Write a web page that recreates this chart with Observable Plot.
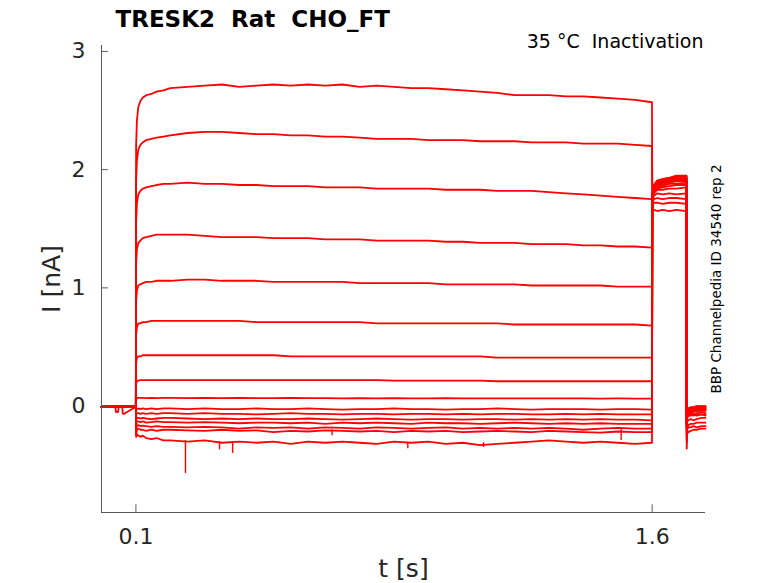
<!DOCTYPE html>
<html>
<head>
<meta charset="utf-8">
<script src="https://cdn.jsdelivr.net/npm/d3@7"></script>
<script src="https://cdn.jsdelivr.net/npm/@observablehq/plot@0.6"></script>
<style>
  html, body { margin: 0; padding: 0; background: #fff; }
  svg text { white-space: pre; }
</style>
</head>
<body>
<div id="chart"></div>
<script>
// ---- time grids (s) ----
const tPre = [0, 0.04, 0.042, 0.048, 0.05, 0.06, 0.062, 0.066, 0.0998];
const tRise = [0.1005, 0.103, 0.107, 0.113, 0.12, 0.13, 0.145, 0.16, 0.18];
const tPlateau = [0.2, 0.25, 0.3, 0.35, 0.4, 0.45, 0.5, 0.55, 0.6, 0.65,
                  0.7, 0.75, 0.8, 0.85, 0.9, 0.95, 1.0, 1.05, 1.1, 1.15,
                  1.2, 1.25, 1.3, 1.35, 1.4, 1.45, 1.5, 1.55, 1.5995];
const tTail = [1.6005, 1.605, 1.615, 1.63, 1.65, 1.67, 1.6995];
const tPost = [1.7005, 1.702, 1.705, 1.712, 1.72, 1.73, 1.743, 1.755];

// ---- current (nA), one row per sweep ----
const base = -0.005;
const pre = [
  [base,base,base,base,base,base,base,base,base],
  [base,base,base,base,base,base,base,base,base],
  [base,base,base,base,base,base,base,base,base],
  [base,base,base,base,base,base,base,base,base],
  [base,base,base,base,base,base,base,base,base],
  [base,base,base,base,base,base,base,base,base],
  [base,base,base,base,base,base,base,base,base],
  [base,base,base,base,base,base,base,base,base],
  [base,base,base,base,base,base,base,base,base],
  [base,base,-0.05,-0.05,base,base,base,base,base],
  [base,base,base,base,base,base,base,base,base],
  [base,base,base,base,base,base,base,base,base],
  [base,base,base,base,base,base,-0.065,-0.065,base],
  [base,base,base,base,base,base,base,base,base],
  [base,base,base,base,base,base,base,base,base],
  [base,base,base,base,base,base,base,base,base]
];
const rise = [
  [2.2, 2.42, 2.53, 2.58, 2.61, 2.63, 2.64, 2.66, 2.67],
  [1.9, 2.08, 2.17, 2.21, 2.23, 2.25, 2.26, 2.27, 2.28],
  [1.55, 1.72, 1.79, 1.82, 1.84, 1.85, 1.86, 1.87, 1.88],
  [1.2, 1.33, 1.38, 1.4, 1.42, 1.43, 1.44, 1.45, 1.45],
  [0.88, 0.98, 1.02, 1.03, 1.04, 1.05, 1.05, 1.06, 1.06],
  [0.6, 0.67, 0.7, 0.7, 0.71, 0.71, 0.72, 0.72, 0.72],
  [0.36, 0.41, 0.42, 0.42, 0.43, 0.43, 0.43, 0.43, 0.43],
  [0.19, 0.21, 0.215, 0.22, 0.22, 0.22, 0.22, 0.22, 0.22],
  [0.06, 0.065, 0.07, 0.07, 0.07, 0.068, 0.07, 0.068, 0.07],
  [-0.03, -0.025, -0.02, -0.025, -0.02, -0.025, -0.02, -0.025, -0.02],
  [-0.07, -0.06, -0.06, -0.065, -0.06, -0.065, -0.06, -0.065, -0.06],
  [-0.12, -0.1, -0.1, -0.105, -0.1, -0.105, -0.11, -0.105, -0.1],
  [-0.16, -0.13, -0.13, -0.135, -0.13, -0.14, -0.135, -0.13, -0.135],
  [-0.2, -0.17, -0.16, -0.17, -0.165, -0.17, -0.175, -0.17, -0.175],
  [-0.24, -0.2, -0.19, -0.2, -0.2, -0.21, -0.2, -0.21, -0.2],
  [-0.26, -0.24, -0.25, -0.26, -0.25, -0.27, -0.28, -0.27, -0.29]
];
const plateau = [
  [2.69,2.70,2.71,2.72,2.70,2.71,2.72,2.71,2.72,2.71, 2.72,2.70,2.71,2.70,2.69,2.69,2.68,2.67,2.66,2.65, 2.63,2.63,2.63,2.62,2.62,2.61,2.60,2.59,2.57],
  [2.29,2.31,2.32,2.32,2.31,2.30,2.30,2.29,2.29,2.28, 2.28,2.27,2.26,2.26,2.26,2.25,2.25,2.25,2.24,2.24, 2.24,2.23,2.23,2.23,2.22,2.22,2.22,2.21,2.20],
  [1.88,1.89,1.88,1.88,1.87,1.87,1.86,1.86,1.86,1.85, 1.85,1.85,1.84,1.84,1.84,1.84,1.83,1.83,1.83,1.82, 1.82,1.82,1.81,1.80,1.79,1.78,1.77,1.76,1.75],
  [1.45,1.45,1.44,1.43,1.43,1.43,1.42,1.42,1.42,1.41, 1.41,1.41,1.40,1.40,1.40,1.40,1.39,1.39,1.38,1.38, 1.38,1.37,1.37,1.37,1.36,1.36,1.35,1.35,1.34],
  [1.06,1.07,1.07,1.06,1.06,1.06,1.05,1.05,1.05,1.05, 1.05,1.04,1.04,1.04,1.04,1.04,1.03,1.03,1.03,1.03, 1.03,1.02,1.02,1.02,1.02,1.02,1.01,1.01,1.01],
  [0.72,0.72,0.72,0.72,0.72,0.71,0.71,0.71,0.71,0.71, 0.71,0.71,0.70,0.70,0.70,0.70,0.70,0.70,0.70,0.70, 0.69,0.69,0.69,0.69,0.69,0.69,0.69,0.69,0.68],
  [0.43,0.43,0.43,0.43,0.43,0.43,0.43,0.42,0.42,0.42, 0.42,0.42,0.42,0.42,0.42,0.42,0.42,0.42,0.42,0.41, 0.41,0.41,0.41,0.41,0.41,0.41,0.41,0.41,0.41],
  [0.22,0.22,0.22,0.22,0.22,0.22,0.22,0.22,0.22,0.22, 0.22,0.22,0.22,0.215,0.215,0.215,0.215,0.215,0.215,0.21, 0.21,0.21,0.21,0.21,0.21,0.21,0.21,0.21,0.21],
  [0.07,0.068,0.07,0.068,0.07,0.068,0.068,0.07,0.068,0.068, 0.066,0.068,0.066,0.068,0.066,0.066,0.068,0.066,0.066,0.065, 0.066,0.065,0.065,0.066,0.065,0.064,0.065,0.064,0.064],
  [-0.02,-0.025,-0.02,-0.025,-0.025,-0.02,-0.025,-0.025,-0.02,-0.025, -0.03,-0.025,-0.025,-0.02,-0.025,-0.025,-0.03,-0.025,-0.025,-0.02, -0.025,-0.03,-0.025,-0.025,-0.025,-0.03,-0.025,-0.025,-0.03],
  [-0.06,-0.065,-0.06,-0.065,-0.065,-0.07,-0.065,-0.06,-0.065,-0.065, -0.07,-0.065,-0.065,-0.07,-0.065,-0.065,-0.07,-0.065,-0.07,-0.065, -0.065,-0.07,-0.07,-0.065,-0.07,-0.065,-0.07,-0.07,-0.07],
  [-0.1,-0.105,-0.11,-0.105,-0.11,-0.105,-0.11,-0.11,-0.105,-0.11, -0.115,-0.11,-0.105,-0.11,-0.115,-0.11,-0.11,-0.115,-0.11,-0.11, -0.115,-0.11,-0.115,-0.11,-0.115,-0.11,-0.115,-0.115,-0.12],
  [-0.135,-0.14,-0.135,-0.14,-0.145,-0.14,-0.14,-0.145,-0.14,-0.15, -0.14,-0.145,-0.14,-0.145,-0.15,-0.14,-0.145,-0.145,-0.15,-0.145, -0.14,-0.145,-0.15,-0.145,-0.15,-0.145,-0.15,-0.15,-0.15],
  [-0.175,-0.18,-0.175,-0.18,-0.19,-0.18,-0.185,-0.18,-0.19,-0.18, -0.185,-0.19,-0.18,-0.185,-0.19,-0.185,-0.18,-0.19,-0.185,-0.19, -0.185,-0.19,-0.185,-0.19,-0.2,-0.19,-0.185,-0.19,-0.19],
  [-0.2,-0.205,-0.21,-0.2,-0.21,-0.205,-0.22,-0.21,-0.215,-0.205, -0.21,-0.215,-0.21,-0.22,-0.21,-0.215,-0.21,-0.22,-0.215,-0.21, -0.215,-0.22,-0.21,-0.215,-0.22,-0.225,-0.215,-0.22,-0.22],
  [-0.29,-0.3,-0.29,-0.31,-0.3,-0.31,-0.3,-0.32,-0.3,-0.31, -0.3,-0.31,-0.32,-0.3,-0.31,-0.3,-0.32,-0.31,-0.33,-0.32, -0.31,-0.3,-0.29,-0.3,-0.31,-0.3,-0.31,-0.32,-0.31]
];
const tail = [
  [1.65, 1.66, 1.65, 1.66, 1.65, 1.66, 1.65],
  [1.7, 1.72, 1.72, 1.71, 1.72, 1.72, 1.71],
  [1.72, 1.75, 1.76, 1.75, 1.76, 1.76, 1.75],
  [1.74, 1.78, 1.8, 1.79, 1.8, 1.79, 1.8],
  [1.74, 1.8, 1.83, 1.83, 1.84, 1.84, 1.85],
  [1.75, 1.81, 1.84, 1.85, 1.86, 1.87, 1.87],
  [1.75, 1.82, 1.85, 1.86, 1.88, 1.88, 1.89],
  [1.76, 1.83, 1.86, 1.87, 1.89, 1.9, 1.9],
  [1.76, 1.84, 1.87, 1.88, 1.9, 1.91, 1.91],
  [1.77, 1.84, 1.88, 1.89, 1.9, 1.92, 1.92],
  [1.77, 1.85, 1.88, 1.9, 1.91, 1.92, 1.93],
  [1.78, 1.85, 1.89, 1.9, 1.91, 1.93, 1.93],
  [1.78, 1.86, 1.89, 1.91, 1.92, 1.93, 1.94],
  [1.79, 1.86, 1.9, 1.91, 1.92, 1.94, 1.94],
  [1.79, 1.87, 1.9, 1.92, 1.93, 1.94, 1.95],
  [1.8, 1.87, 1.91, 1.92, 1.93, 1.95, 1.95]
];
const post = [
  [-0.36, -0.2, -0.16, -0.15, -0.15, -0.14, -0.14, -0.14],
  [-0.3, -0.23, -0.22, -0.21, -0.2, -0.2, -0.19, -0.19],
  [-0.28, -0.19, -0.18, -0.18, -0.17, -0.18, -0.17, -0.17],
  [-0.25, -0.13, -0.12, -0.11, -0.12, -0.11, -0.1, -0.1],
  [-0.2, -0.09, -0.07, -0.06, -0.07, -0.06, -0.05, -0.06],
  [-0.2, -0.08, -0.06, -0.05, -0.05, -0.04, -0.04, -0.04],
  [-0.18, -0.07, -0.05, -0.04, -0.03, -0.03, -0.03, -0.03],
  [-0.18, -0.06, -0.04, -0.03, -0.02, -0.02, -0.02, -0.02],
  [-0.16, -0.06, -0.03, -0.02, -0.02, -0.01, -0.01, -0.01],
  [-0.16, -0.05, -0.03, -0.02, -0.01, -0.01, 0, -0.01],
  [-0.15, -0.05, -0.02, -0.01, -0.01, 0, 0, 0],
  [-0.15, -0.1, -0.08, -0.07, -0.08, -0.07, -0.07, -0.07],
  [-0.14, -0.09, -0.08, -0.08, -0.07, -0.08, -0.07, -0.08],
  [-0.14, -0.06, -0.04, -0.04, -0.03, -0.04, -0.03, -0.03],
  [-0.13, -0.05, -0.03, -0.02, -0.02, -0.02, -0.01, -0.02],
  [-0.13, -0.04, -0.02, -0.01, -0.01, 0, -0.01, 0]
];

// short glitches (downward spikes) seen on the lower sweeps
const spikeT = [0.244, 0.343, 0.381, 0.67, 0.89, 1.11, 1.51];
const spikeFrom = [-0.29, -0.3, -0.3, -0.2, -0.31, -0.31, -0.19];
const spikeTo = [-0.57, -0.37, -0.4, -0.25, -0.36, -0.35, -0.29];

// axis ticks
const xTicks = [0.1, 1.6];
const yTicks = [0, 1, 2, 3];

const title = "TRESK2  Rat  CHO_FT";
const note = "35 °C  Inactivation";
const sideNote = "BBP Channelpedia ID 34540 rep 2";
const xLabel = "t [s]";
const yLabel = "I [nA]";

// ---- build long table ----
const rows = [];
for (let i = 0; i < plateau.length; i++) {
  const segs = [[tPre, pre[i]], [tRise, rise[i]], [tPlateau, plateau[i]], [tTail, tail[i]], [tPost, post[i]]];
  for (const [ts, vs] of segs) {
    ts.forEach((t, k) => rows.push({t, v: vs[k], sweep: i}));
  }
}
const spikes = spikeT.map((t, k) => ({t, a: spikeFrom[k], b: spikeTo[k]}));

const xDom = [0, 1.755];
const yDom = [-0.9, 3.05];
const axisColor = "#5a5a5a";
const textColor = "#262626";

const chart = Plot.plot({
  width: 778,
  height: 583,
  marginLeft: 101,
  marginRight: 73,
  marginTop: 45,
  marginBottom: 71,
  x: {domain: xDom, axis: null},
  y: {domain: yDom, axis: null},
  style: {fontFamily: "DejaVu Sans", background: "#fff", overflow: "visible"},
  marks: [
    Plot.line(rows, {x: "t", y: "v", z: "sweep", stroke: "#ff0000", strokeWidth: 1.8, strokeLinejoin: "round"}),
    Plot.ruleX(spikes, {x: "t", y1: "a", y2: "b", stroke: "#ff0000", strokeWidth: 1.4}),
    // axis lines
    Plot.ruleX([xDom[0]], {y1: yDom[0], y2: yDom[1], stroke: axisColor, strokeWidth: 1}),
    Plot.ruleY([yDom[0]], {x1: xDom[0], x2: xDom[1], stroke: axisColor, strokeWidth: 1}),
    // inward ticks
    Plot.ruleY(yTicks, {x1: xDom[0], x2: 0.02, stroke: axisColor, strokeWidth: 1}),
    Plot.ruleX(xTicks, {y1: yDom[0], y2: yDom[0] + 0.065, stroke: axisColor, strokeWidth: 1}),
    // tick labels
    Plot.text(yTicks, {x: xDom[0], y: d => d, text: d => String(d), textAnchor: "end", lineAnchor: "middle", dx: -16, fontSize: 22, fill: textColor}),
    Plot.text(xTicks, {x: d => d, y: yDom[0], text: d => String(d), lineAnchor: "middle", dy: 24, fontSize: 22, fill: textColor}),
    // axis labels
    Plot.text([xLabel], {frameAnchor: "bottom", textAnchor: "middle", lineAnchor: "middle", dy: 56, fontSize: 25, fill: textColor}),
    Plot.text([yLabel], {frameAnchor: "left", textAnchor: "middle", lineAnchor: "middle", dx: -50, rotate: -90, fontSize: 25, fill: textColor}),
    // title and notes
    Plot.text([title], {frameAnchor: "top-left", dx: 14, dy: -26, textAnchor: "start", lineAnchor: "middle", fontSize: 23, fontWeight: "bold", fill: "#000"}),
    Plot.text([note], {frameAnchor: "top-right", dx: -2, dy: -4, textAnchor: "end", lineAnchor: "middle", fontSize: 19, fill: "#000"}),
    Plot.text([sideNote], {frameAnchor: "right", dx: 11, textAnchor: "middle", lineAnchor: "middle", rotate: -90, fontSize: 13.5, fill: "#000"})
  ]
});
document.getElementById("chart").appendChild(chart);
</script>
</body>
</html>
